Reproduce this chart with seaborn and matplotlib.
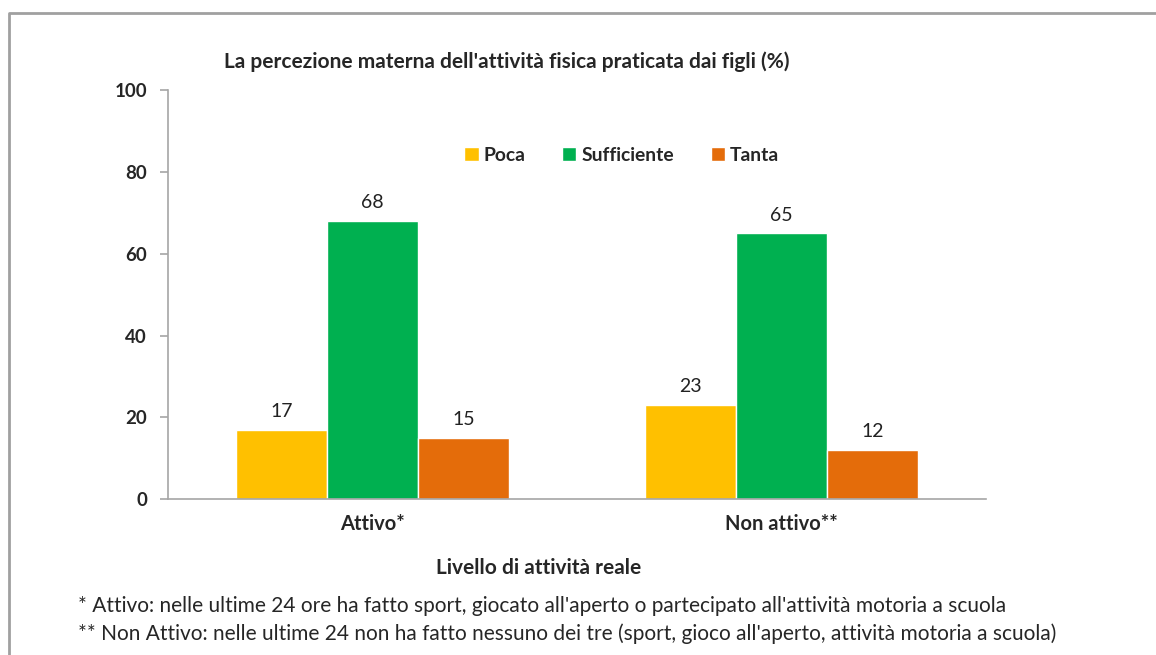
import matplotlib.pyplot as plt
import seaborn as sns
import pandas as pd
from matplotlib.lines import Line2D

# data
livelli = ["Attivo*", "Non attivo**"]
percezioni = ["Poca", "Sufficiente", "Tanta"]
poca = [17, 23]
sufficiente = [68, 65]
tanta = [15, 12]

colori = ["#FFC000", "#00B050", "#E46C0A"]

df = pd.DataFrame({
    "livello": livelli * 3,
    "percezione": ["Poca"] * 2 + ["Sufficiente"] * 2 + ["Tanta"] * 2,
    "valore": poca + sufficiente + tanta,
})

sns.set_style("white")
plt.rcParams["font.family"] = ["Lato", "DejaVu Sans"]

fig = plt.figure(figsize=(11.56, 6.55), dpi=100)
ax = fig.add_axes([0.1453, 0.238, 0.7076, 0.6244])

sns.barplot(data=df, x="livello", y="valore", hue="percezione",
            hue_order=percezioni, palette=colori, width=0.667, gap=0,
            saturation=1, errorbar=None, ax=ax)

for cont in ax.containers:
    ax.bar_label(cont, padding=7, fontsize=14, color="#222222")

ax.set_ylim(0, 100)
ax.set_yticks(range(0, 101, 20))
ax.set_xlim(-0.5, 1.5)
ax.set_xticks([-0.5, 0.5, 1.5], minor=True)
ax.tick_params(axis="x", which="major", length=0, pad=11)
ax.tick_params(axis="x", which="minor", length=6, color="#A6A6A6", width=1.2)
ax.tick_params(axis="y", length=6, color="#A6A6A6", width=1.2, left=True, pad=9)
for lab in ax.get_xticklabels():
    lab.set_fontweight("bold")
    lab.set_fontsize(14.5)
for lab in ax.get_yticklabels():
    lab.set_fontweight("bold")
    lab.set_fontsize(13.5)

for s in ["top", "right"]:
    ax.spines[s].set_visible(False)
for s in ["left", "bottom"]:
    ax.spines[s].set_color("#A6A6A6")
    ax.spines[s].set_linewidth(1.2)

ax.set_ylabel("")
ax.set_xlabel("Livello di attività reale", fontsize=15, fontweight="bold")
ax.xaxis.set_label_coords(0.453, -0.145)

leg = ax.legend(loc="center", bbox_to_anchor=(0.5545, 0.841), ncol=3, frameon=False,
                handlelength=0.75, handleheight=0.75, handletextpad=0.25,
                columnspacing=1.9, prop={"weight": "bold", "size": 13.9})

fig.text(224 / 1156, 1 - 62 / 655, "La percezione materna dell'attività fisica praticata dai figli (%)",
         fontsize=15, fontweight="bold", va="center", ha="left")

fig.text(78 / 1156, 1 - 606 / 655,
         "* Attivo: nelle ultime 24 ore ha fatto sport, giocato all'aperto o partecipato all'attività motoria a scuola",
         fontsize=15, va="center", ha="left")
fig.text(78 / 1156, 1 - 634 / 655,
         "** Non Attivo: nelle ultime 24 non ha fatto nessuno dei tre (sport, gioco all'aperto, attività motoria a scuola)",
         fontsize=15, va="center", ha="left")

# outer frame (top and left edges visible)
fig.add_artist(Line2D([9 / 1156, 9 / 1156, 1.0], [0.0, 1 - 13 / 655, 1 - 13 / 655],
                      color="#A0A0A0", linewidth=2, transform=fig.transFigure))

fig.savefig("out.png", dpi=100)
